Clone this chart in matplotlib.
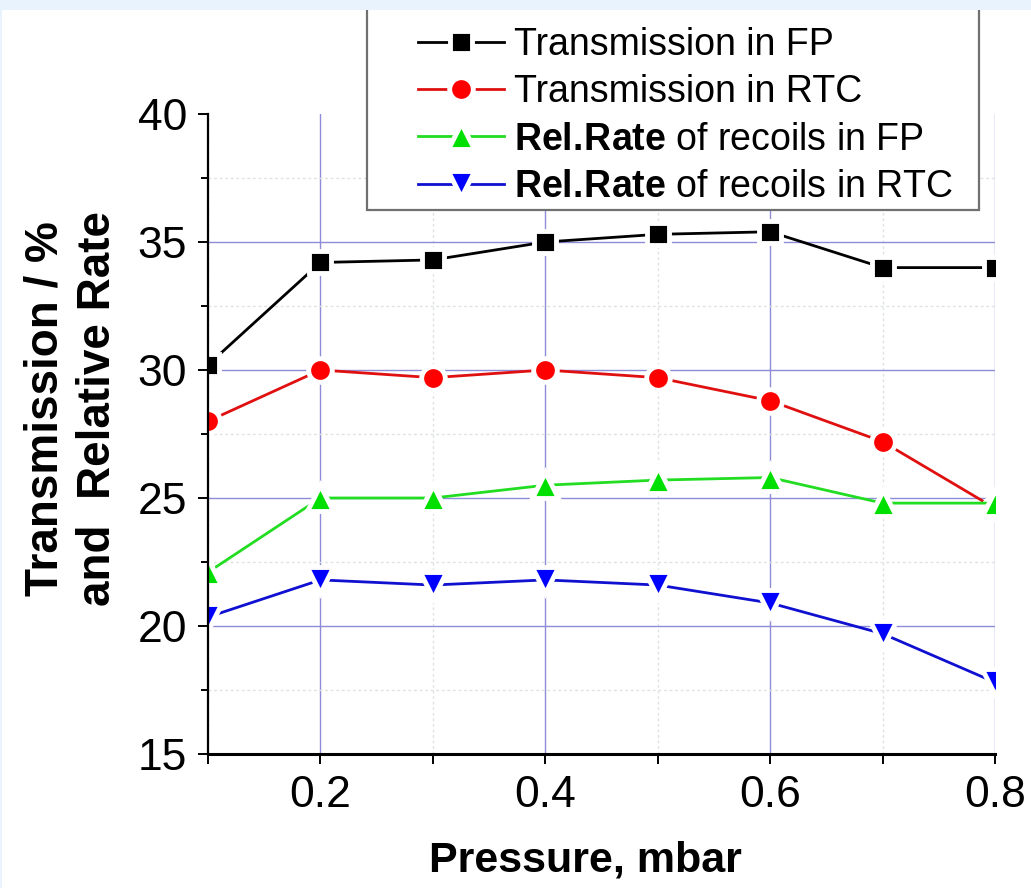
import numpy as np
import matplotlib
matplotlib.use('Agg')
import matplotlib.pyplot as plt
from matplotlib.patches import Rectangle
from matplotlib.ticker import MultipleLocator

plt.rcParams['font.family'] = ['Liberation Sans', 'DejaVu Sans']
plt.rcParams['mathtext.fontset'] = 'custom'
plt.rcParams['mathtext.rm'] = 'Liberation Sans'
plt.rcParams['mathtext.bf'] = 'Liberation Sans:bold'

# pressure scan, mbar
pressure = [0.1, 0.2, 0.3, 0.4, 0.5, 0.6, 0.7, 0.8]

trans_fp = [30.2, 34.2, 34.3, 35.0, 35.3, 35.4, 34.0, 34.0]
trans_rtc = [28.0, 30.0, 29.7, 30.0, 29.7, 28.8, 27.2, 24.6]
rate_fp = [22.1, 25.0, 25.0, 25.5, 25.7, 25.8, 24.8, 24.8]
rate_rtc = [20.35, 21.8, 21.6, 21.8, 21.6, 20.9, 19.7, 17.8]

labels = ['Transmission in FP',
          'Transmission in RTC',
          r'$\mathbf{Rel.\!Rate}$ of recoils in FP',
          r'$\mathbf{Rel.\!Rate}$ of recoils in RTC']

W, H = 1031, 888
fig = plt.figure(figsize=(W / 100, H / 100), dpi=100)
fig.patch.set_facecolor('white')
ax = fig.add_axes([208 / W, 1 - 754 / H, (995 - 208) / W, (754 - 114) / H])

halo = dict(markeredgecolor='white', markeredgewidth=3.5)
h1, = ax.plot(pressure, trans_fp, '-', color='black', lw=2.0, marker='s', ms=15.5, markerfacecolor='black', **halo)
h2, = ax.plot(pressure, trans_rtc, '-', color='#e01010', lw=2.0, marker='o', ms=17, markerfacecolor='#ff0000', **halo)
h3, = ax.plot(pressure, rate_fp, '-', color='#22dd22', lw=2.0, marker='^', ms=19, markerfacecolor='#00e000', **halo)
h4, = ax.plot(pressure, rate_rtc, '-', color='#1010d0', lw=2.0, marker='v', ms=19, markerfacecolor='#0000ff', **halo)

ax.set_xlim(0.1, 0.8)
ax.set_ylim(15, 40)
ax.xaxis.set_major_locator(MultipleLocator(0.2))
ax.xaxis.set_minor_locator(MultipleLocator(0.1))
ax.yaxis.set_major_locator(MultipleLocator(5))
ax.yaxis.set_minor_locator(MultipleLocator(2.5))
ax.xaxis.set_major_formatter(lambda v, p: f'{v:.1f}')

ax.grid(which='major', color='#8c8cd8', lw=1.0)
ax.grid(which='minor', color='#dde4dd', lw=1.0, ls=(0, (2, 2)))
ax.set_axisbelow(True)

for s in ['top', 'right']:
    ax.spines[s].set_visible(False)
ax.spines['left'].set_linewidth(1.6)
ax.spines['bottom'].set_linewidth(2.2)
ax.tick_params(which='major', direction='out', length=7, width=1.4, labelsize=32, pad=8)
ax.tick_params(which='minor', direction='out', length=5, width=1.4)
ax.tick_params(axis='x', which='minor', length=7)

ax.set_xlabel('Pressure, mbar', fontsize=31, fontweight='bold')
ax.xaxis.set_label_coords(0.48, -0.135)
ax.set_ylabel('Transmission / %\nand  Relative Rate', fontsize=33, fontweight='bold',
              linespacing=1.25)
ax.yaxis.set_label_coords(-0.112, 0.54)

fig.canvas.draw()
# no grid line along the top edge
for gl, v in zip(ax.yaxis.get_gridlines(), ax.get_yticks()):
    if v >= 40:
        gl.set_visible(False)

# legend box, cut by the top edge
fig.patches.append(Rectangle((367 / W, 1 - 210 / H), (979 - 367) / W, 220 / H,
                             transform=fig.transFigure, facecolor='white',
                             edgecolor='#707070', lw=1.6, zorder=4))
fig.legend([h1, h2, h3, h4], labels, loc='upper left',
           bbox_to_anchor=(418 / W, 1 - 27 / H), bbox_transform=fig.transFigure,
           frameon=False, fontsize=27, borderpad=0, borderaxespad=0,
           handlelength=2.3, handletextpad=0.25, labelspacing=0.3).set_zorder(5)

# light blue page border
fig.patches.append(Rectangle((0, 1 - 10 / H), 1, 10 / H, transform=fig.transFigure,
                             facecolor='#e9f3fd', edgecolor='none', zorder=10))
fig.patches.append(Rectangle((0, 0), 2 / W, 1, transform=fig.transFigure,
                             facecolor='#e9f3fd', edgecolor='none', zorder=10))

fig.savefig('out.png', dpi=100)
